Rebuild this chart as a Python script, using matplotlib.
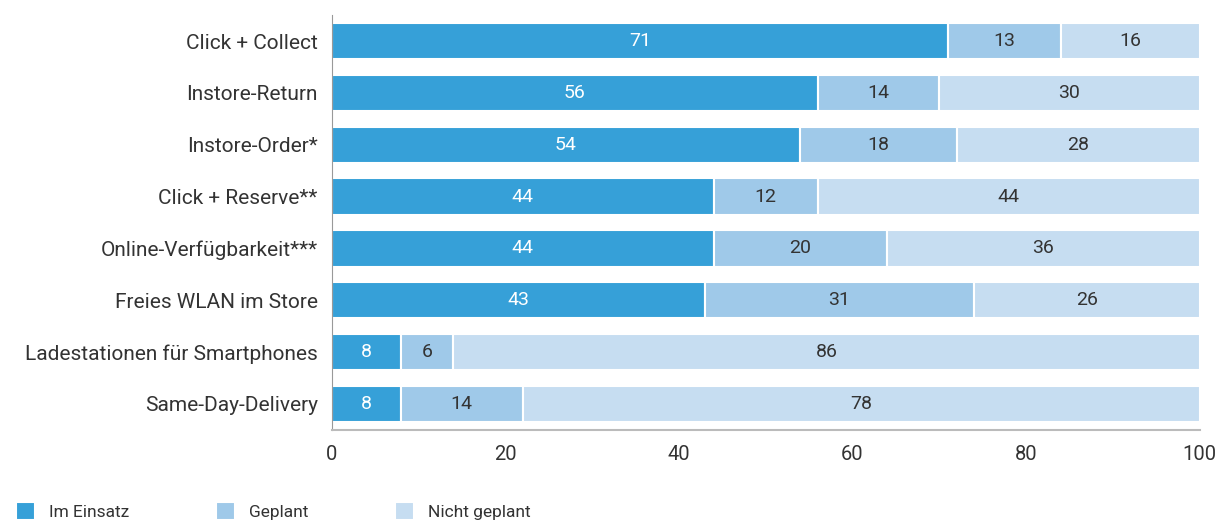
import matplotlib.pyplot as plt
import numpy as np

categories = ["Click + Collect", "Instore-Return", "Instore-Order*", "Click + Reserve**",
              "Online-Verfügbarkeit***", "Freies WLAN im Store",
              "Ladestationen für Smartphones", "Same-Day-Delivery"]
im_einsatz = [71, 56, 54, 44, 44, 43, 8, 8]
geplant = [13, 14, 18, 12, 20, 31, 6, 14]
nicht_geplant = [16, 30, 28, 44, 36, 26, 86, 78]
series_names = ["Im Einsatz", "Geplant", "Nicht geplant"]
xticks = [0, 20, 40, 60, 80, 100]

plt.rcParams['font.family'] = ['Roboto', 'DejaVu Sans']

colors = ["#36a0d8", "#9fc9e9", "#c6ddf1"]
text_colors = ["white", "#333333", "#333333"]

fig, ax = plt.subplots(figsize=(12.28, 5.23), dpi=100)
fig.subplots_adjust(left=0.270, right=0.977, top=0.971, bottom=0.178)

y = np.arange(len(categories))
left = np.zeros(len(categories))
for vals, col, tcol, name in zip([im_einsatz, geplant, nicht_geplant], colors, text_colors, series_names):
    bars = ax.barh(y, vals, left=left, height=0.7, color=col, edgecolor="white",
                   linewidth=1.5, label=name)
    for b, v in zip(bars, vals):
        ax.text(b.get_x() + b.get_width() / 2, b.get_y() + b.get_height() / 2, str(v),
                ha="center", va="center", color=tcol, fontsize=14)
    left += np.array(vals)

ax.set_yticks(y)
ax.set_yticklabels(categories, fontsize=15, color="#333333")
ax.set_ylim(len(categories) - 0.5, -0.5)
ax.set_xlim(0, 100)
ax.set_xticks(xticks)
ax.tick_params(axis="x", labelsize=14.5, colors="#333333", length=0, pad=11)
ax.tick_params(axis="y", length=0, pad=10)

for s in ["top", "right"]:
    ax.spines[s].set_visible(False)
ax.spines["left"].set_color("#999999")
ax.spines["bottom"].set_color("#bbbbbb")
ax.spines["bottom"].set_linewidth(1.5)

handles, labels = ax.get_legend_handles_labels()
fig.legend(handles, labels, loc="lower left", bbox_to_anchor=(0.0, -0.025), ncol=3,
           frameon=False, fontsize=12.5, handlelength=1.1, handleheight=1.3,
           handletextpad=0.8, columnspacing=5.0, labelcolor="#333333")

fig.savefig("out.png", dpi=100)
